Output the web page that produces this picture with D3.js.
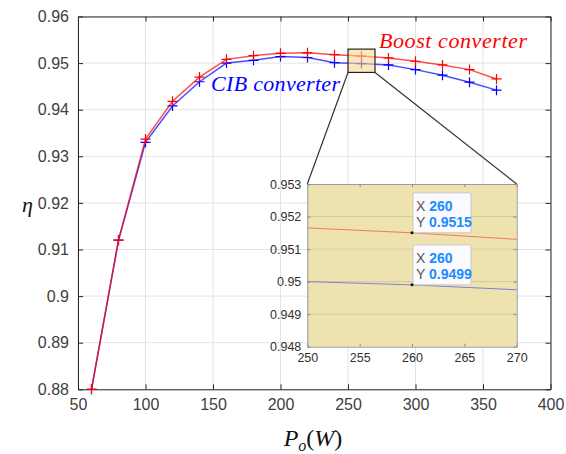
<!DOCTYPE html>
<html>
<head>
<meta charset="utf-8">
<script src="https://cdn.jsdelivr.net/npm/d3@7"></script>
<style>
    body { margin: 0; background: #fff; }
    svg { display: block; }
</style>
</head>
<body>
<div id="chart"></div>
<script>
// output power (W)
const power = [60, 80, 100, 120, 140, 160, 180, 200, 220, 240, 260, 280, 300, 320, 340, 360]
const boostEff = [0.880, 0.912, 0.9337, 0.9418, 0.9470, 0.9508, 0.9516, 0.9521, 0.9522, 0.9518, 0.9515, 0.9511, 0.9504, 0.9496, 0.9486, 0.9466]
const cibEff = [0.880, 0.912, 0.9330, 0.9408, 0.9460, 0.9500, 0.9506, 0.9514, 0.9512, 0.9501, 0.9499, 0.9496, 0.9486, 0.9474, 0.9459, 0.9442]

const xTicks = [50, 100, 150, 200, 250, 300, 350, 400]
const yTicks = [0.88, 0.89, 0.9, 0.91, 0.92, 0.93, 0.94, 0.95, 0.96]
const zoomXTicks = [250, 255, 260, 265, 270]
const zoomYTicks = [0.948, 0.949, 0.95, 0.951, 0.952, 0.953]
const zoomX = [250, 270]
const zoomY = [0.948, 0.953]
const tips = [{x: 260, y: 0.9515}, {x: 260, y: 0.9499}]

const width = 566
const height = 454

const svg = d3.select('#chart').append('svg')
    .attr('width', width)
    .attr('height', height)

const x = d3.scaleLinear().domain([50, 400]).range([78, 550.5])
const y = d3.scaleLinear().domain([0.88, 0.96]).range([389.3, 16.5])

const series = [
    {values: cibEff, color: '#0000ff'},
    {values: boostEff, color: '#ff0000'}
]

drawMain()
drawInset()
drawLabels()

function drawMain() {
    const g = svg.append('g')

    // grid
    g.selectAll('.gx').data(xTicks).enter().append('line')
        .attr('x1', d => x(d)).attr('x2', d => x(d))
        .attr('y1', y(0.96)).attr('y2', y(0.88))
        .attr('stroke', '#e3e3e3').attr('stroke-width', 1)
    g.selectAll('.gy').data(yTicks).enter().append('line')
        .attr('x1', x(50)).attr('x2', x(400))
        .attr('y1', d => y(d)).attr('y2', d => y(d))
        .attr('stroke', '#e3e3e3').attr('stroke-width', 1)

    // axes, ticks point inwards like matlab
    const xb = g.append('g').attr('transform', 'translate(0,' + y(0.88) + ')')
        .call(d3.axisBottom(x).tickValues(xTicks).tickSizeInner(-5).tickSizeOuter(0).tickPadding(9).tickFormat(d3.format('d')))
    const xt = g.append('g').attr('transform', 'translate(0,' + y(0.96) + ')')
        .call(d3.axisTop(x).tickValues(xTicks).tickSizeInner(-5).tickSizeOuter(0).tickFormat(''))
    const yl = g.append('g').attr('transform', 'translate(' + x(50) + ',0)')
        .call(d3.axisLeft(y).tickValues(yTicks).tickSizeInner(-5).tickSizeOuter(0).tickPadding(9).tickFormat(d => d3.format('')(+d.toFixed(2))))
    const yr = g.append('g').attr('transform', 'translate(' + x(400) + ',0)')
        .call(d3.axisRight(y).tickValues(yTicks).tickSizeInner(-5).tickSizeOuter(0).tickFormat(''))

    ;[xb, xt, yl, yr].forEach(a => {
        a.select('.domain').attr('stroke', '#262626').attr('stroke-width', 1)
        a.selectAll('.tick line').attr('stroke', '#262626')
        a.selectAll('.tick text')
            .attr('fill', '#404040')
            .style('font-family', 'Liberation Sans, Arial, sans-serif')
            .style('font-size', '16px')
    })

    const line = d3.line().x((d, i) => x(power[i])).y(d => y(d))
    series.forEach(s => {
        g.append('path')
            .datum(s.values)
            .attr('d', line)
            .attr('fill', 'none')
            .attr('stroke', s.color)
            .attr('stroke-opacity', 0.7)
            .attr('stroke-width', 1.5)
        g.selectAll(null).data(s.values).enter().append('path')
            .attr('d', (d, i) => {
                const cx = x(power[i]), cy = y(d)
                return 'M' + (cx - 5) + ',' + cy + 'H' + (cx + 5) + 'M' + cx + ',' + (cy - 5) + 'V' + (cy + 5)
            })
            .attr('stroke', s.color)
            .attr('stroke-width', 1.2)
    })

    // zoom rectangle
    g.append('rect')
        .attr('x', x(zoomX[0]))
        .attr('y', y(zoomY[1]))
        .attr('width', x(zoomX[1]) - x(zoomX[0]))
        .attr('height', y(zoomY[0]) - y(zoomY[1]))
        .attr('fill', '#fbd98f')
        .attr('fill-opacity', 0.6)
        .attr('stroke', '#222')
        .attr('stroke-width', 1.2)
}

function drawInset() {
    const ix = d3.scaleLinear().domain(zoomX).range([307.3, 516.7])
    const iy = d3.scaleLinear().domain(zoomY).range([346.7, 184])

    // connector lines
    svg.append('line')
        .attr('x1', x(zoomX[0])).attr('y1', y(zoomY[0]))
        .attr('x2', ix(zoomX[0])).attr('y2', iy(zoomY[1]))
        .attr('stroke', '#333').attr('stroke-width', 1.2)
    svg.append('line')
        .attr('x1', x(zoomX[1])).attr('y1', y(zoomY[0]))
        .attr('x2', ix(zoomX[1])).attr('y2', iy(zoomY[1]))
        .attr('stroke', '#333').attr('stroke-width', 1.2)

    const g = svg.append('g')
    g.append('rect')
        .attr('x', ix(zoomX[0])).attr('y', iy(zoomY[1]))
        .attr('width', ix(zoomX[1]) - ix(zoomX[0]))
        .attr('height', iy(zoomY[0]) - iy(zoomY[1]))
        .attr('fill', '#eee2ae')

    g.selectAll('.igy').data(zoomYTicks.slice(1, -1)).enter().append('line')
        .attr('x1', ix(zoomX[0])).attr('x2', ix(zoomX[1]))
        .attr('y1', d => iy(d)).attr('y2', d => iy(d))
        .attr('stroke', '#c9c09a').attr('stroke-width', 0.8)
        .attr('stroke-dasharray', (d, i) => i == 2 ? '2,2' : null)

    g.append('clipPath').attr('id', 'insetclip').append('rect')
        .attr('x', ix(zoomX[0])).attr('y', iy(zoomY[1]))
        .attr('width', ix(zoomX[1]) - ix(zoomX[0]))
        .attr('height', iy(zoomY[0]) - iy(zoomY[1]))

    const line = d3.line().x((d, i) => ix(power[i])).y(d => iy(d))
    const insetColors = ['#7f7fd8', '#f4785a']
    series.forEach((s, k) => {
        g.append('path')
            .datum(s.values)
            .attr('clip-path', 'url(#insetclip)')
            .attr('d', line)
            .attr('fill', 'none')
            .attr('stroke', insetColors[k])
            .attr('stroke-width', 1)
    })

    const ab = g.append('g').attr('transform', 'translate(0,' + iy(zoomY[0]) + ')')
        .call(d3.axisBottom(ix).tickValues(zoomXTicks).tickSizeInner(-3).tickSizeOuter(0).tickPadding(6))
    const at = g.append('g').attr('transform', 'translate(0,' + iy(zoomY[1]) + ')')
        .call(d3.axisTop(ix).tickValues(zoomXTicks).tickSizeInner(-3).tickSizeOuter(0).tickFormat(''))
    const al = g.append('g').attr('transform', 'translate(' + ix(zoomX[0]) + ',0)')
        .call(d3.axisLeft(iy).tickValues(zoomYTicks).tickSizeInner(-3).tickSizeOuter(0).tickPadding(6).tickFormat(d => d3.format('')(+d.toFixed(3))))
    const ar = g.append('g').attr('transform', 'translate(' + ix(zoomX[1]) + ',0)')
        .call(d3.axisRight(iy).tickValues(zoomYTicks).tickSizeInner(-3).tickSizeOuter(0).tickFormat(''))
    ;[ab, at, al, ar].forEach(a => {
        a.select('.domain').attr('stroke', '#9a9a9a')
        a.selectAll('.tick line').attr('stroke', '#8a8a8a')
        a.selectAll('.tick text')
            .attr('fill', '#303030')
            .style('font-family', 'Liberation Sans, Arial, sans-serif')
            .style('font-size', '12.5px')
    })

    // data tips
    tips.forEach(t => {
        const px = ix(t.x), py = iy(t.y)
        const tip = g.append('g').attr('transform', 'translate(' + px + ',' + py + ')')
        tip.append('rect')
            .attr('x', 1).attr('y', -40)
            .attr('width', 58).attr('height', 40)
            .attr('rx', 2)
            .attr('fill', '#fafaff')
            .attr('stroke', '#c8c8c8')
        const rows = [['X', t.x], ['Y', t.y.toFixed(4)]]
        rows.forEach((r, i) => {
            const txt = tip.append('text')
                .attr('x', 4).attr('y', -22 + i * 16)
                .style('font-family', 'Liberation Sans, Arial, sans-serif')
                .style('font-size', '14px')
            txt.append('tspan').attr('fill', '#555').text(r[0] + ' ')
            txt.append('tspan').attr('fill', '#1a8cff').attr('font-weight', 'bold').text(r[1])
        })
        tip.append('circle').attr('r', 1.5).attr('fill', '#111')
    })
}

function drawLabels() {
    const serif = 'Liberation Serif, DejaVu Serif, serif'
    svg.append('text')
        .attr('x', 379).attr('y', 48)
        .attr('fill', '#ff0000')
        .attr('textLength', 148)
        .style('font-family', serif).style('font-style', 'italic').style('font-size', '22px')
        .text('Boost converter')
    svg.append('text')
        .attr('x', 211).attr('y', 91)
        .attr('fill', '#0000ff')
        .attr('textLength', 129)
        .style('font-family', serif).style('font-style', 'italic').style('font-size', '22px')
        .text('CIB converter')

    svg.append('text')
        .attr('x', 22).attr('y', 212)
        .attr('fill', '#111')
        .style('font-family', serif).style('font-style', 'italic').style('font-size', '22px')
        .text('η')

    const xl = svg.append('text')
        .attr('x', 313).attr('y', 446)
        .attr('text-anchor', 'middle')
        .attr('fill', '#111')
        .style('font-family', serif).style('font-size', '24px')
    xl.append('tspan').style('font-style', 'italic').text('P')
    xl.append('tspan').style('font-style', 'italic').style('font-size', '16px').attr('dy', 5).text('o')
    xl.append('tspan').attr('dy', -5).text('(')
    xl.append('tspan').style('font-style', 'italic').text('W')
    xl.append('tspan').text(')')
}
</script>
</body>
</html>
